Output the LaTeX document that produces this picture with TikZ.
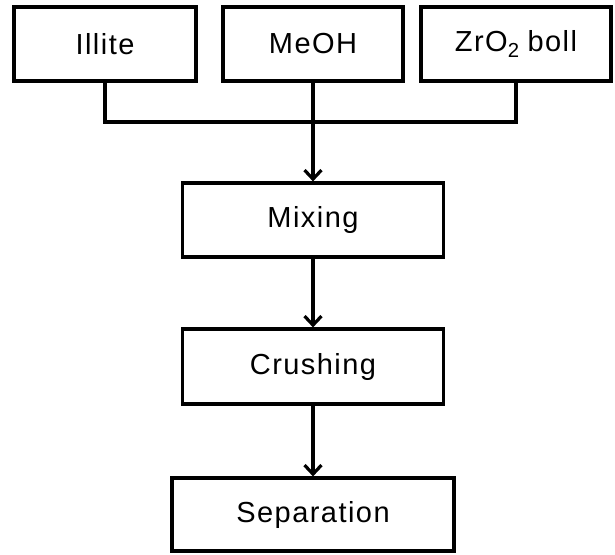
\documentclass[tikz,border=0pt]{standalone}
\usepackage{fontspec}
\setmainfont{Liberation Sans}[LetterSpace=5]
\usetikzlibrary{arrows.meta}
\tikzset{
  boxnode/.style={draw, line width=3.2pt, rectangle, inner sep=0pt, minimum height=74pt,
    font=\fontsize{29}{34}\selectfont},
  conn/.style={line width=3.2pt},
  arr/.style={conn, -{Straight Barb[length=9pt,width=17pt,line width=3.2pt]}}
}
\begin{document}
\begin{tikzpicture}[x=1pt,y=-1pt]
\useasboundingbox (0,0) rectangle (615,554);
\node[boxnode, minimum width=182pt] (ill) at (105,44) {Illite};
\node[boxnode, minimum width=180pt] (meoh) at (313,44) {MeOH};
\node[boxnode, minimum width=190pt] (zro) at (516,44) {ZrO\textsubscript{2}\hspace{8pt}boll};
\node[boxnode, minimum width=261pt] (mix) at (313,220) {Mixing};
\node[boxnode, minimum width=261pt, minimum height=75pt] (cru) at (313,366.5) {Crushing};
\node[boxnode, minimum width=282pt, minimum height=73pt] (sep) at (313,514.5) {Separation};
\coordinate (j) at (313,122);
\draw[conn] (ill.south) |- (j) -| (zro.south);
\draw[conn] (meoh.south) -- (j);
\draw[arr] (j) -- (mix.north);
\draw[arr] (mix.south) -- (cru.north);
\draw[arr] (cru.south) -- (sep.north);
\end{tikzpicture}
\end{document}
